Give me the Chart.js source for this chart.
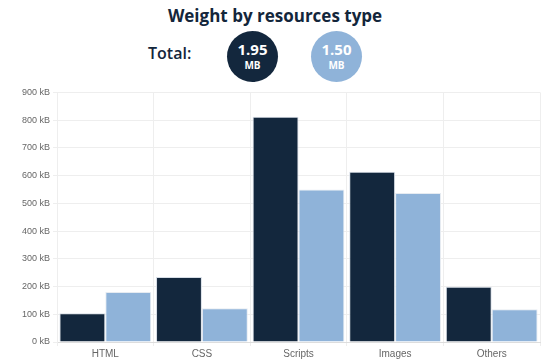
<!DOCTYPE html>
<html>
<head>
<meta charset="utf-8">
<script src="https://cdn.jsdelivr.net/npm/chart.js@4"></script>
<style>
  html, body { margin: 0; padding: 0; background: #fff; }
  body { width: 550px; height: 362px; overflow: hidden; font-family: "Open Sans", sans-serif; color: #13263b; }
  #head { position: relative; height: 86px; }
  #title { position: absolute; top: 4px; left: 0; width: 550px; text-align: center; font-size: 17px; font-weight: 700; }
  #total { position: absolute; left: 148px; top: 42px; font-size: 16px; font-weight: 600; }
  .bubble { position: absolute; top: 31px; width: 51px; height: 51px; border-radius: 50%; color: #fff; text-align: center; font-weight: 700; }
  .bubble .num { display: block; font-size: 15px; line-height: 15px; margin-top: 11px; }
  .bubble .unit { display: block; font-size: 10px; line-height: 12px; margin-top: 2px; }
  #wrap { position: absolute; left: 0; top: 84px; width: 550px; height: 278px; }
</style>
</head>
<body>
<div id="head">
  <div id="title">Weight by resources type</div>
  <div id="total">Total:</div>
  <div class="bubble" id="b1" style="left:227px;background:#13273d"><span class="num"></span><span class="unit">MB</span></div>
  <div class="bubble" id="b2" style="left:311px;background:#8fb3d9"><span class="num"></span><span class="unit">MB</span></div>
</div>
<div id="wrap"><canvas id="chart"></canvas></div>
<script>
var categories = ['HTML', 'CSS', 'Scripts', 'Images', 'Others'];
var firstValues = [104, 234, 812, 614, 199];
var secondValues = [180, 122, 550, 537, 118];
var totals = ['1.95', '1.50'];
var yTicks = [0, 100, 200, 300, 400, 500, 600, 700, 800, 900];

var dark = '#13273d', light = '#8fb3d9';

document.querySelector('#b1 .num').textContent = totals[0];
document.querySelector('#b2 .num').textContent = totals[1];

var ctx = document.getElementById('chart');
new Chart(ctx, {
  type: 'bar',
  data: {
    labels: categories,
    datasets: [
      { data: firstValues, backgroundColor: dark, borderColor: '#d6dde6', borderWidth: 1 },
      { data: secondValues, backgroundColor: light, borderColor: '#e6ebf1', borderWidth: 1 }
    ]
  },
  options: {
    responsive: true,
    maintainAspectRatio: false,
    animation: false,
    layout: { padding: { left: 19, right: 10, top: 2, bottom: 0 } },
    categoryPercentage: 0.95,
    barPercentage: 1.0,
    plugins: { legend: { display: false }, tooltip: { enabled: false } },
    scales: {
      x: {
        grid: { color: '#eeeeee', offset: true, tickLength: 4 },
        border: { color: '#dddddd' },
        ticks: { color: '#666', font: { family: 'Liberation Sans, Arial, sans-serif', size: 10 }, padding: 2 }
      },
      y: {
        min: yTicks[0],
        max: yTicks[yTicks.length - 1],
        afterBuildTicks: function (axis) { axis.ticks = yTicks.map(function (v) { return { value: v }; }); },
        grid: { color: '#eeeeee', tickLength: 4 },
        border: { color: '#eeeeee' },
        ticks: {
          color: '#666',
          font: { family: 'Liberation Sans, Arial, sans-serif', size: 9 },
          padding: 3,
          callback: function (v) { return v + ' kB'; }
        }
      }
    }
  }
});
</script>
</body>
</html>
